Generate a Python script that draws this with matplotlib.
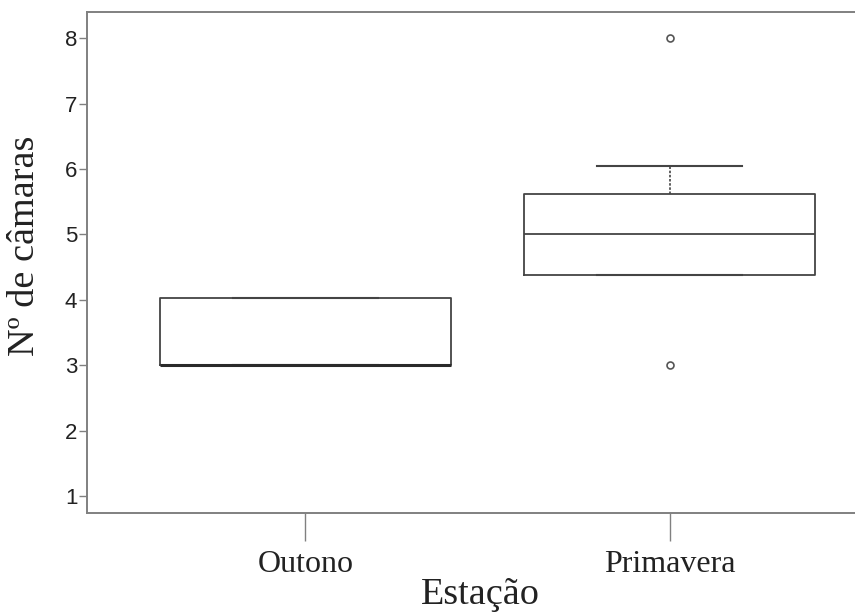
import matplotlib
matplotlib.use("Agg")
import matplotlib.pyplot as plt

# Box summaries per season (number of chambers)
categories = ["Outono", "Primavera"]
q1 = [3.0, 4.38]
medians = [3.0, 5.0]
q3 = [4.02, 5.62]
whisker_low = [3.0, 4.38]
whisker_high = [4.02, 6.04]
outliers = [[], [8.0, 3.0]]
y_ticks = [1, 2, 3, 4, 5, 6, 7, 8]

W, H = 855, 612
fig = plt.figure(figsize=(W / 100, H / 100), dpi=100)
ax = fig.add_axes([87 / W, 1 - 513 / H, (888 - 87) / W, (513 - 12) / H])

stats = []
for i, name in enumerate(categories):
    stats.append(dict(label=name, q1=q1[i], med=medians[i], q3=q3[i],
                      whislo=whisker_low[i], whishi=whisker_high[i],
                      fliers=outliers[i]))

line_col = "#444444"
ax.bxp(stats, positions=[1, 2], widths=0.8, showfliers=True,
       boxprops=dict(color=line_col, linewidth=1.3),
       medianprops=dict(color=line_col, linewidth=1.3),
       whiskerprops=dict(color=line_col, linewidth=1.2, linestyle=(0, (1.5, 1))),
       capprops=dict(color=line_col, linewidth=1.5),
       capwidths=0.4,
       flierprops=dict(marker="o", markersize=5, markerfacecolor="white",
                       markeredgecolor="#555555", markeredgewidth=1.2))

# Thicker median line where it coincides with the lower hinge
ax.hlines(medians[0], 0.6, 1.4, color="#2a2a2a", linewidth=2.2, zorder=3)

ax.set_xlim(0.4, 2.6)
ax.set_ylim(0.74, 8.40)
ax.set_yticks(y_ticks)
ax.set_yticklabels([str(t) for t in y_ticks], family="Liberation Sans",
                   fontsize=16, color="#222222")
ax.set_xticks([1, 2])
ax.set_xticklabels(categories, family="Liberation Serif", fontsize=23,
                   color="#222222")

for s in ax.spines.values():
    s.set_color("#808080")
    s.set_linewidth(1.4)

ax.tick_params(axis="y", direction="out", length=6, width=1, color="#808080",
               pad=1)
ax.tick_params(axis="x", direction="out", length=20, width=1, color="#808080",
               pad=7)

ax.set_ylabel("Nº de câmaras", family="Liberation Serif", fontsize=27.5,
              color="#222222")
ax.yaxis.set_label_coords(-45 / (888 - 87), 0.534)
ax.set_xlabel("Estação", family="Liberation Serif", fontsize=27.5,
              color="#222222")
ax.xaxis.set_label_coords((480 - 87) / (888 - 87), -64 / (513 - 12))

fig.savefig("out.png", dpi=100, facecolor="white")
